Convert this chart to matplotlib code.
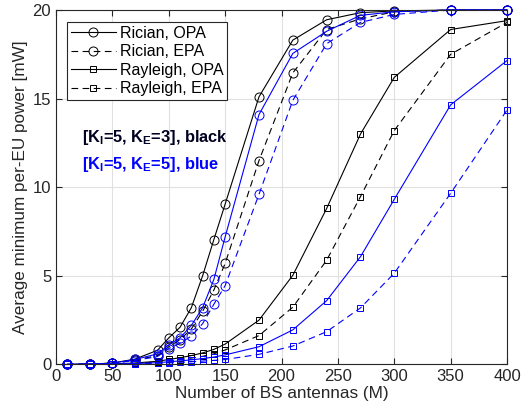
import matplotlib
matplotlib.use('Agg')
import matplotlib.pyplot as plt

plt.rcParams['font.family'] = ['Liberation Sans', 'DejaVu Sans']
plt.rcParams['mathtext.fontset'] = 'custom'
plt.rcParams['mathtext.rm'] = 'Liberation Sans'
plt.rcParams['mathtext.bf'] = 'Liberation Sans:bold'

# Number of BS antennas
antennas = [10, 30, 50, 70, 90, 100, 110, 120, 130, 140, 150, 180, 210, 240, 270, 300, 350, 400]

# [K_I=5, K_E=3] -> black curves
rician_opa_k3 = [0, 0.02, 0.08, 0.3, 0.8, 1.5, 2.1, 3.2, 5.0, 7.05, 9.05, 15.1, 18.3, 19.45, 19.85, 19.95, 20, 20]
rician_epa_k3 = [0, 0.02, 0.07, 0.25, 0.5, 1.0, 1.4, 2.0, 3.0, 4.2, 5.7, 11.5, 16.45, 18.9, 19.5, 19.9, 20, 20]
rayleigh_opa_k3 = [0, 0.01, 0.03, 0.08, 0.18, 0.28, 0.38, 0.5, 0.65, 0.85, 1.15, 2.5, 5.03, 8.8, 13.0, 16.2, 18.9, 19.4]
rayleigh_epa_k3 = [0, 0.01, 0.02, 0.06, 0.13, 0.2, 0.27, 0.36, 0.46, 0.6, 0.82, 1.63, 3.23, 5.88, 9.47, 13.2, 17.5, 19.3]

# [K_I=5, K_E=5] -> blue curves
rician_opa_k5 = [0, 0.02, 0.07, 0.28, 0.6, 1.1, 1.5, 2.2, 3.2, 4.8, 7.2, 14.1, 17.55, 18.8, 19.7, 19.9, 20, 20]
rician_epa_k5 = [0, 0.02, 0.06, 0.22, 0.45, 0.9, 1.2, 1.6, 2.3, 3.4, 4.45, 9.6, 14.9, 18.1, 19.3, 19.75, 20, 20]
rayleigh_opa_k5 = [0, 0.01, 0.02, 0.05, 0.1, 0.15, 0.2, 0.26, 0.33, 0.42, 0.54, 1.0, 1.95, 3.6, 6.08, 9.32, 14.65, 17.15]
rayleigh_epa_k5 = [0, 0.005, 0.01, 0.03, 0.06, 0.09, 0.12, 0.15, 0.19, 0.23, 0.28, 0.57, 1.04, 1.85, 3.19, 5.15, 9.66, 14.36]

fig = plt.figure(figsize=(5.3, 4.17), dpi=100)
ax = fig.add_axes([0.1057, 0.126, 0.851, 0.850])

blue = '#0000ff'
lw = 0.8
circ = dict(marker='o', markersize=6.5, markerfacecolor='none', markeredgewidth=0.7, clip_on=False)
sq = dict(marker='s', markersize=5, markerfacecolor='none', markeredgewidth=0.7, clip_on=False)

ax.plot(antennas, rician_opa_k3, '-', color='k', lw=lw, label='Rician, OPA', **circ)
ax.plot(antennas, rician_epa_k3, '--', color='k', lw=lw, dashes=(6, 4), label='Rician, EPA', **circ)
ax.plot(antennas, rayleigh_opa_k3, '-', color='k', lw=lw, label='Rayleigh, OPA', **sq)
ax.plot(antennas, rayleigh_epa_k3, '--', color='k', lw=lw, dashes=(6, 4), label='Rayleigh, EPA', **sq)

ax.plot(antennas, rician_opa_k5, '-', color=blue, lw=lw, **circ)
ax.plot(antennas, rician_epa_k5, '--', color=blue, lw=lw, dashes=(6, 4), **circ)
ax.plot(antennas, rayleigh_opa_k5, '-', color=blue, lw=lw, **sq)
ax.plot(antennas, rayleigh_epa_k5, '--', color=blue, lw=lw, dashes=(6, 4), **sq)

ax.set_xlim(0, 400)
ax.set_ylim(0, 20)
ax.set_xticks(range(0, 401, 50))
ax.set_yticks([0, 5, 10, 15, 20])
ax.grid(True, color='#e0e0e0', lw=0.8)
ax.set_axisbelow(True)
ax.tick_params(direction='in', top=True, right=True, labelsize=12, colors='#262626', length=4)
for s in ax.spines.values():
    s.set_color('#262626')
    s.set_linewidth(0.8)

ax.set_xlabel('Number of BS antennas (M)', fontsize=12.3, color='#262626', labelpad=1)
ax.set_ylabel('Average minimum per-EU power [mW]', fontsize=12.3, color='#262626', labelpad=3)

leg = ax.legend(loc='upper left', bbox_to_anchor=(0.024, 0.967), fontsize=11.5,
                frameon=True, fancybox=False, edgecolor='#262626', framealpha=1,
                borderpad=0.25, labelspacing=0.22, handlelength=2.8, handletextpad=0.25,
                borderaxespad=0)
leg.get_frame().set_linewidth(0.8)

ax.text(23, 12.8, r'[K$_\mathbf{I}$=5, K$_\mathbf{E}$=3], black', fontsize=11.8,
        fontweight='bold', color='#000020', va='center')
ax.text(23, 11.3, r'[K$_\mathbf{I}$=5, K$_\mathbf{E}$=5], blue', fontsize=11.8,
        fontweight='bold', color=blue, va='center')

fig.savefig('out.png', dpi=100)
